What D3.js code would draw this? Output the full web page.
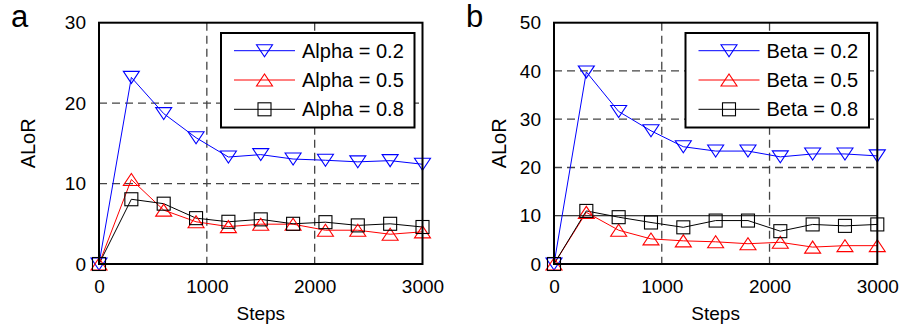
<!DOCTYPE html>
<html><head><meta charset="utf-8">
<script src="https://cdn.jsdelivr.net/npm/d3@7"></script>
<style>body{margin:0;background:#fff}svg{display:block}text{font-family:Arial,"Liberation Sans",sans-serif;fill:#000}</style>
</head><body><svg id="c" width="901" height="327"></svg>
<script>
const steps = [0,300,600,900,1200,1500,1800,2100,2400,2700,3000];
const alphaLabels = ["Alpha = 0.2","Alpha = 0.5","Alpha = 0.8"];
const alpha02 = [0,23.2,18.7,15.7,13.3,13.6,13.05,12.9,12.7,12.85,12.4];
const alpha05 = [0,10.5,6.7,5.25,4.65,4.95,4.95,4.2,4.2,3.7,4.0];
const alpha08 = [0,8.05,7.5,5.7,5.25,5.55,5.0,5.2,4.8,5.0,4.6];
const betaLabels = ["Beta = 0.2","Beta = 0.5","Beta = 0.8"];
const beta02 = [0,39.8,31.6,27.6,24.3,23.4,23.4,22.2,22.8,22.8,22.4];
const beta05 = [0,10.7,7.0,5.2,4.8,4.6,4.2,4.5,3.5,3.8,3.8];
const beta08 = [0,11.0,9.7,8.6,7.6,9.0,9.0,6.8,8.2,7.9,8.2];
const xTicks = [0,1000,2000,3000];
const yTicksA = [0,10,20,30];
const yTicksB = [0,10,20,30,40,50];

const colors = ["#0000ff","#ff0000","#000000"];
const markers = ["down","up","square"];
const svg = d3.select("#c");

function marker(g, type, x, y, color){
  if(type==="square"){
    g.append("rect").attr("x",x-6.5).attr("y",y-6.5).attr("width",13).attr("height",13)
     .attr("fill","none").attr("stroke",color).attr("stroke-width",1.1);
  } else {
    const w=8, h=12;
    let pts;
    if(type==="down") pts=[[x-w,y-h/2],[x+w,y-h/2],[x,y+h/2]];
    else pts=[[x-w,y+h/2],[x+w,y+h/2],[x,y-h/2]];
    g.append("polygon").attr("points",pts.map(p=>p.join(",")).join(" "))
     .attr("fill","none").attr("stroke",color).attr("stroke-width",1.1);
  }
}

function panel(opt){
  const {left,right,top,bottom,ymax,yTicks,series,labels,letter,letterX,legend,solid10} = opt;
  const x = d3.scaleLinear().domain([0,3000]).range([left,right]);
  const y = d3.scaleLinear().domain([0,ymax]).range([bottom,top]);
  const g = svg.append("g");
  // grid
  g.selectAll(".vg").data(xTicks.slice(1,-1)).join("line")
    .attr("x1",d=>x(d)).attr("x2",d=>x(d)).attr("y1",top).attr("y2",bottom)
    .attr("stroke","#444").attr("stroke-width",1.3).attr("stroke-dasharray","8,5");
  g.selectAll(".hg").data(yTicks.slice(1,-1)).join("line")
    .attr("x1",left).attr("x2",right).attr("y1",d=>y(d)).attr("y2",d=>y(d))
    .attr("stroke",d=>(solid10&&d===10)?"#000":"#444").attr("stroke-width",d=>(solid10&&d===10)?1:1.3)
    .attr("stroke-dasharray",d=>(solid10&&d===10)?null:"8,5");
  // axes labels
  const xa = d3.axisBottom(x).tickValues(xTicks).tickSize(0).tickPadding(16).tickFormat(d3.format("d"));
  const ga = g.append("g").attr("transform",`translate(0,${bottom})`).call(xa);
  ga.select(".domain").remove();
  ga.selectAll("text").attr("font-size",19).attr("font-family","Arial, Liberation Sans, sans-serif");
  const ya = d3.axisLeft(y).tickValues(yTicks).tickSize(0).tickPadding(13);
  const gy = g.append("g").attr("transform",`translate(${left},0)`).call(ya);
  gy.select(".domain").remove();
  gy.selectAll("text").attr("font-size",19).attr("font-family","Arial, Liberation Sans, sans-serif");
  // series
  const line = d3.line().x((d,i)=>x(steps[i])).y(d=>y(d));
  series.forEach((s,k)=>{
    g.append("path").attr("d",line(s)).attr("fill","none").attr("stroke",colors[k]).attr("stroke-width",1);
  });
  series.forEach((s,k)=>{
    s.forEach((v,i)=>marker(g,markers[k],x(steps[i]),y(v),colors[k]));
  });
  // frame
  g.append("rect").attr("x",left).attr("y",top).attr("width",right-left).attr("height",bottom-top)
    .attr("fill","none").attr("stroke","#000").attr("stroke-width",2);
  // legend
  const L = legend;
  g.append("rect").attr("x",L.x).attr("y",L.y).attr("width",L.w).attr("height",L.h)
    .attr("fill","#fff").attr("stroke","#000").attr("stroke-width",2);
  labels.forEach((t,k)=>{
    const ly = L.y + 17.7 + k*29.3;
    g.append("line").attr("x1",L.x+13).attr("x2",L.x+74).attr("y1",ly).attr("y2",ly)
      .attr("stroke",colors[k]).attr("stroke-width",1);
    marker(g,markers[k],L.x+43.5,ly,colors[k]);
    g.append("text").attr("x",L.x+81).attr("y",ly+7).attr("font-size",20).text(t);
  });
  // axis titles
  g.append("text").attr("x",(left+right)/2).attr("y",320).attr("text-anchor","middle").attr("font-size",19).text("Steps");
  g.append("text").attr("transform",`translate(${opt.ylabX},${(top+bottom)/2}) rotate(-90)`)
    .attr("text-anchor","middle").attr("font-size",20).text("ALoR");
  g.append("text").attr("x",letterX).attr("y",27).attr("font-size",31).text(letter);
}

panel({left:99,right:422.5,top:22.7,bottom:264,ymax:30,yTicks:yTicksA,
  series:[alpha02,alpha05,alpha08],labels:alphaLabels,letter:"a",letterX:11,ylabX:35,
  legend:{x:221,y:33,w:193.5,h:94.5},solid10:false});
panel({left:554,right:877.3,top:22.7,bottom:264,ymax:50,yTicks:yTicksB,
  series:[beta02,beta05,beta08],labels:betaLabels,letter:"b",letterX:466,ylabX:506,
  legend:{x:685.5,y:33,w:183.5,h:94.5},solid10:true});
</script></body></html>
